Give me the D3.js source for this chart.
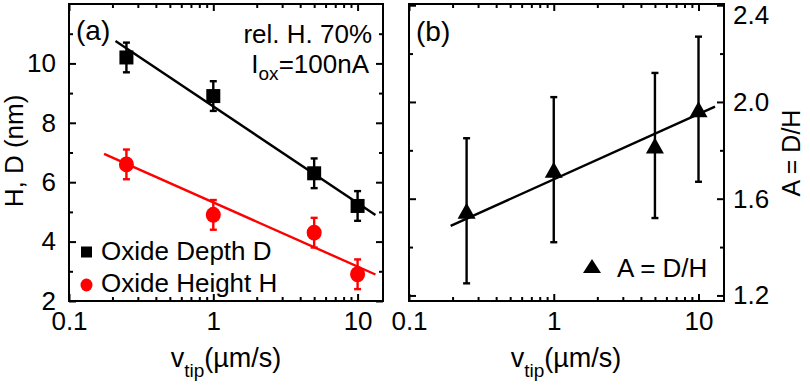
<!DOCTYPE html>
<html><head><meta charset="utf-8">
<script src="https://cdn.jsdelivr.net/npm/d3@7"></script>
<style>
body{margin:0;background:#fff}
svg{display:block}
text{font-family:"Liberation Sans",Arial,Helvetica,sans-serif;fill:#000}
</style>
</head><body>
<svg id="chart" width="810" height="387"></svg>
<script>
// Tip speed (µm/s) for every oxidation run
const speeds = [0.25, 1, 5, 10];
// Panel (a): oxide depth D and oxide height H (nm) with error bars
const depthD = [10.2, 8.9, 6.3, 5.2];
const depthErr = [0.5, 0.5, 0.5, 0.5];
const heightH = [6.6, 4.9, 4.3, 2.9];
const heightErr = [0.5, 0.5, 0.5, 0.5];
// Panel (b): aspect ratio A = D/H
const ratioA = [1.55, 1.72, 1.82, 1.97];
const ratioErr = [0.30, 0.30, 0.30, 0.30];
// Semi-log fits: value = intercept + slope * log10(v), drawn over [vFrom, vTo]
const fitD = {intercept: 8.55, slope: -3.25, vFrom: 0.21, vTo: 13.3};
const fitH = {intercept: 5.32, slope: -2.16, vFrom: 0.175, vTo: 13.3};
const fitA = {intercept: 1.68, slope: 0.27, vFrom: 0.194, vTo: 13.0};
// Axis ticks
const xMajor = [0.1, 1, 10];
const xMajorLabels = ["0.1", "1", "10"];
const xMinor = [0.2,0.3,0.4,0.5,0.6,0.7,0.8,0.9,2,3,4,5,6,7,8,9];
const yMajorA = [2, 4, 6, 8, 10];
const yMinorA = [3, 5, 7, 9, 11];
const yMajorB = [1.2, 1.6, 2.0, 2.4];
const yMajorLabelsB = ["1.2", "1.6", "2.0", "2.4"];
const yMinorB = [1.4, 1.8, 2.2];

const svg = d3.select("#chart");
const RED = "#ff0000";
const TICK_FONT = "26px";

const xA = d3.scaleLog().domain([0.1, 15]).range([69, 383]);
const yA = d3.scaleLinear().domain([2, 12]).range([301, 4]);
const xB = d3.scaleLog().domain([0.1, 15]).range([409, 724]);
const yB = d3.scaleLinear().domain([1.177, 2.405]).range([301, 4]);

function frameAndTicks(x, y, yMaj, yMin, yLabelSide, yLabels) {
  const [x0, x1] = x.range();
  const [y1, y0] = y.range();
  const g = svg.append("g");
  const style = sel => {
    sel.select(".domain").remove();
    sel.selectAll(".tick line").attr("stroke", "#000").attr("stroke-width", 2);
    sel.selectAll(".tick text").style("font-size", TICK_FONT)
      .style("font-family", '"Liberation Sans",Arial,sans-serif').attr("fill", "#000");
  };
  // bottom
  g.append("g").attr("transform", `translate(0,${y1})`)
    .call(d3.axisBottom(x).tickValues(xMajor).tickFormat((d, i) => xMajorLabels[i]).tickSizeInner(-7).tickSizeOuter(0).tickPadding(11))
    .call(style);
  g.append("g").attr("transform", `translate(0,${y1})`)
    .call(d3.axisBottom(x).tickValues(xMinor).tickFormat("").tickSizeInner(-4).tickSizeOuter(0))
    .call(style);
  // top
  g.append("g").attr("transform", `translate(0,${y0})`)
    .call(d3.axisTop(x).tickValues(xMajor).tickFormat("").tickSizeInner(-7).tickSizeOuter(0))
    .call(style);
  g.append("g").attr("transform", `translate(0,${y0})`)
    .call(d3.axisTop(x).tickValues(xMinor).tickFormat("").tickSizeInner(-4).tickSizeOuter(0))
    .call(style);
  // left
  g.append("g").attr("transform", `translate(${x0},0)`)
    .call(d3.axisLeft(y).tickValues(yMaj).tickFormat(yLabelSide === "left" ? (d, i) => yLabels[i] : "").tickSizeInner(-7).tickSizeOuter(0).tickPadding(13))
    .call(style);
  g.append("g").attr("transform", `translate(${x0},0)`)
    .call(d3.axisLeft(y).tickValues(yMin).tickFormat("").tickSizeInner(-4).tickSizeOuter(0))
    .call(style);
  // right
  const right = g.append("g").attr("transform", `translate(${x1},0)`)
    .call(d3.axisRight(y).tickValues(yMaj).tickFormat(yLabelSide === "right" ? (d, i) => yLabels[i] : "").tickSizeInner(-7).tickSizeOuter(0).tickPadding(9))
    .call(style);
  // keep the label at the very top edge inside the picture
  right.selectAll(".tick text").filter(d => y(d) < y0 + 6).attr("dy", "0.72em");
  g.append("g").attr("transform", `translate(${x1},0)`)
    .call(d3.axisRight(y).tickValues(yMin).tickFormat("").tickSizeInner(-4).tickSizeOuter(0))
    .call(style);
  g.append("rect").attr("x", x0).attr("y", y0).attr("width", x1 - x0).attr("height", y1 - y0)
    .attr("fill", "none").attr("stroke", "#000").attr("stroke-width", 2);
}

function fitLine(x, y, fit, color) {
  const pts = [fit.vFrom, fit.vTo].map(v => [x(v), y(fit.intercept + fit.slope * Math.log10(v))]);
  svg.append("path").attr("d", d3.line()(pts)).attr("fill", "none").attr("stroke", color).attr("stroke-width", 2.4);
}

function errorBars(x, y, vals, errs, color) {
  const g = svg.append("g").attr("stroke", color).attr("stroke-width", 2.4);
  speeds.forEach((v, i) => {
    const cx = x(v), top = y(vals[i] + errs[i]), bot = y(vals[i] - errs[i]);
    g.append("line").attr("x1", cx).attr("x2", cx).attr("y1", top).attr("y2", bot);
    g.append("line").attr("x1", cx - 3.5).attr("x2", cx + 3.5).attr("y1", top).attr("y2", top);
    g.append("line").attr("x1", cx - 3.5).attr("x2", cx + 3.5).attr("y1", bot).attr("y2", bot);
  });
}

const triPath = (cx, cy, w, h) => `M${cx - w / 2},${cy + h / 2}L${cx + w / 2},${cy + h / 2}L${cx},${cy - h / 2}Z`;

// ---------- panel (a) ----------
frameAndTicks(xA, yA, yMajorA, yMinorA, "left", yMajorA.map(String));
fitLine(xA, yA, fitD, "#000");
fitLine(xA, yA, fitH, RED);
errorBars(xA, yA, depthD, depthErr, "#000");
errorBars(xA, yA, heightH, heightErr, RED);
svg.append("g").selectAll("rect").data(speeds).join("rect")
  .attr("x", (d) => xA(d) - 7).attr("y", (d, i) => yA(depthD[i]) - 7)
  .attr("width", 14).attr("height", 14).attr("fill", "#000");
svg.append("g").selectAll("ellipse").data(speeds).join("ellipse")
  .attr("cx", d => xA(d)).attr("cy", (d, i) => yA(heightH[i]))
  .attr("rx", 7.5).attr("ry", 8).attr("fill", RED);

svg.append("text").attr("x", 76).attr("y", 40).style("font-size", "28px").text("(a)");
svg.append("text").attr("x", 372).attr("y", 43).attr("text-anchor", "end").style("font-size", "26px").text("rel. H. 70%");
const iox = svg.append("text").attr("x", 369).attr("y", 73).attr("text-anchor", "end").style("font-size", "26px");
iox.append("tspan").text("I");
iox.append("tspan").attr("dy", 7).style("font-size", "19px").text("ox");
iox.append("tspan").attr("dy", -7).text("=100nA");

// legend (a)
svg.append("rect").attr("x", 81).attr("y", 246.5).attr("width", 11).attr("height", 11).attr("fill", "#000");
svg.append("text").attr("x", 101).attr("y", 260).style("font-size", "26px").text("Oxide Depth D");
svg.append("ellipse").attr("cx", 86.5).attr("cy", 285).attr("rx", 6).attr("ry", 6.5).attr("fill", RED);
svg.append("text").attr("x", 101).attr("y", 292).style("font-size", "26px").text("Oxide Height H");

svg.append("text").attr("transform", "translate(23,151) rotate(-90)").attr("text-anchor", "middle")
  .style("font-size", "26px").text("H, D (nm)");

function xTitle(cx) {
  const t = svg.append("text").attr("x", cx).attr("y", 367).attr("text-anchor", "middle").style("font-size", "27px");
  t.append("tspan").text("v");
  t.append("tspan").attr("dy", 10).style("font-size", "19px").text("tip");
  t.append("tspan").attr("dy", -10).text("(µm/s)");
}
xTitle(226);

// ---------- panel (b) ----------
frameAndTicks(xB, yB, yMajorB, yMinorB, "right", yMajorLabelsB);
fitLine(xB, yB, fitA, "#000");
errorBars(xB, yB, ratioA, ratioErr, "#000");
svg.append("g").selectAll("path.tri").data(speeds).join("path").attr("class", "tri")
  .attr("d", (d, i) => triPath(xB(d), yB(ratioA[i]), 18, 16)).attr("fill", "#000");

svg.append("text").attr("x", 416).attr("y", 41).style("font-size", "28px").text("(b)");
svg.append("path").attr("d", triPath(592, 266, 18, 14)).attr("fill", "#000");
svg.append("text").attr("x", 617).attr("y", 277).style("font-size", "26px").text("A = D/H");
svg.append("text").attr("transform", "translate(800,153) rotate(-90)").attr("text-anchor", "middle")
  .style("font-size", "25px").text("A = D/H");
xTitle(566);
</script>
</body></html>
